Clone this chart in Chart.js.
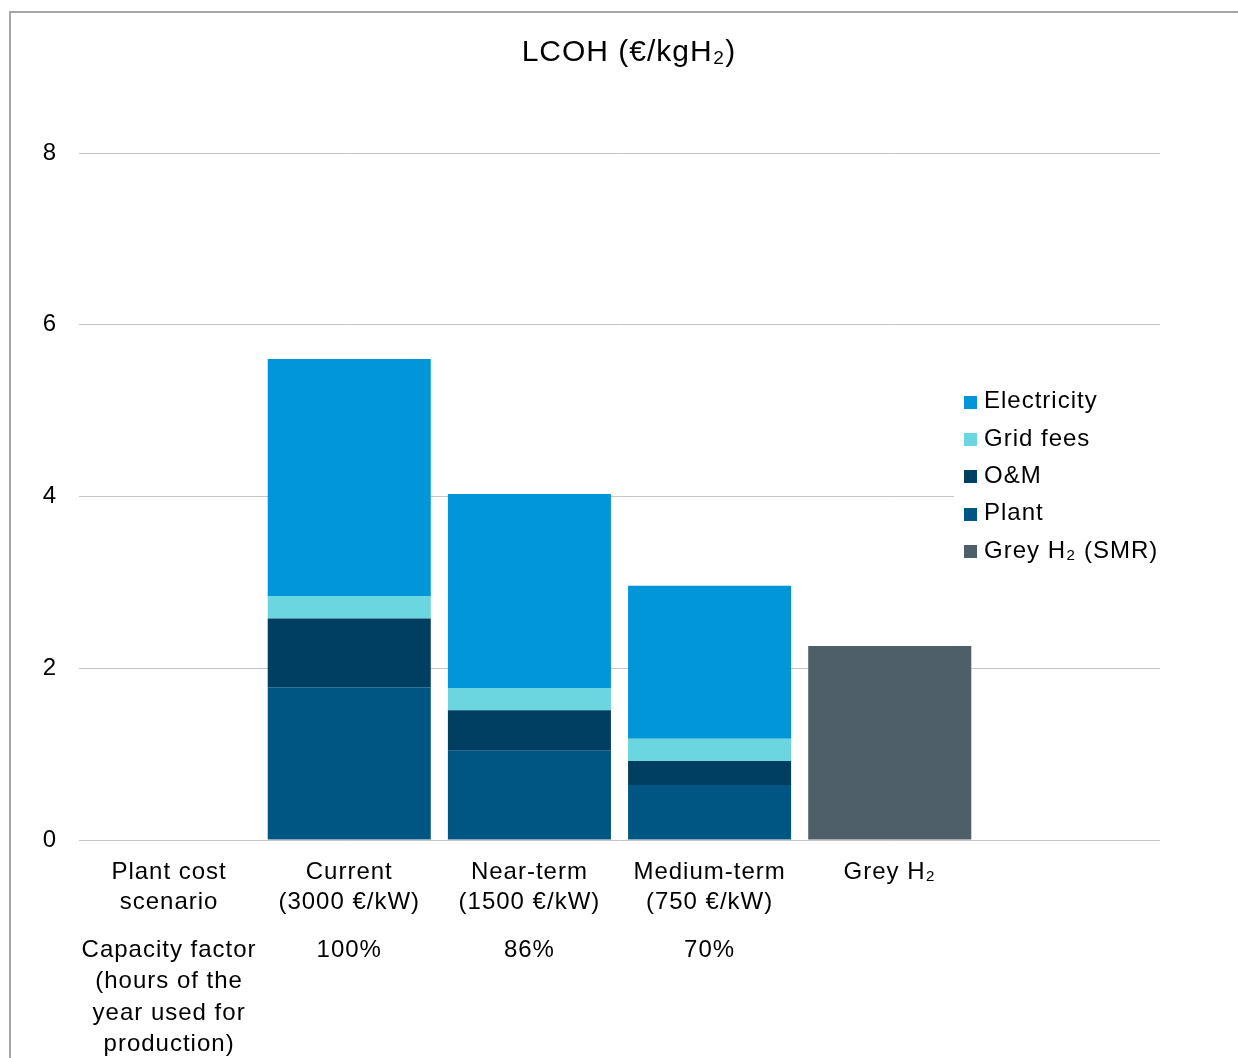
<!DOCTYPE html>
<html>
<head>
<meta charset="utf-8">
<title>LCOH</title>
<script src="https://cdn.jsdelivr.net/npm/chart.js@4.4.1/dist/chart.umd.min.js"></script>
<style>
  html, body { margin: 0; padding: 0; background: #fff; overflow: hidden; }
  #wrap { position: relative; width: 1238px; height: 1058px; }
  #wrap canvas { position: absolute; left: 0; top: 0; }
  #frame { position: absolute; left: 9px; top: 11px; right: 0; bottom: 0;
           border-top: 2px solid #a6a6a6; border-left: 2px solid #a6a6a6; pointer-events: none; }
</style>
</head>
<body>
<div id="wrap">
  <canvas id="lcoh" width="1238" height="1058"></canvas>
  <div id="frame"></div>
</div>
<script>
'use strict';
//___________DATA__________________
var scenarios = [['Plant cost', 'scenario'], ['Current', '(3000 €/kW)'], ['Near-term', '(1500 €/kW)'],
  ['Medium-term', '(750 €/kW)'], 'Grey H₂', ''];
var capacityFactors = [['Capacity factor', '(hours of the', 'year used for', 'production)'], '100%', '86%', '70%', '', ''];

var plant       = [null, 1.78, 1.04, 0.64, null, null];
var om          = [null, 0.80, 0.47, 0.28, null, null];
var gridFees    = [null, 0.26, 0.26, 0.26, null, null];
var electricity = [null, 2.76, 2.26, 1.78, null, null];
var greyH2      = [null, null, null, null, 2.26, null];

var yTicks = [0, 2, 4, 6, 8];
var legendOrder = ['Electricity', 'Grid fees', 'O&M', 'Plant', 'Grey H₂ (SMR)'];

//___________STYLE_________________________________
var FONT = 'Liberation Sans, Arial, sans-serif';
var colors = {
  'Plant': '#005683',
  'O&M': '#003F62',
  'Grid fees': '#6BD5E0',
  'Electricity': '#0096D8',
  'Grey H₂ (SMR)': '#4E5F6A'
};

// text in the original is set a little wide
var spacing = {
  id: 'spacing',
  beforeUpdate: function(chart) { chart.ctx.letterSpacing = '1px'; },
  beforeDraw: function(chart) { chart.ctx.letterSpacing = '1px'; }
};

// legend floats over the empty right-hand category
var floatingLegend = {
  id: 'floatingLegend',
  afterDraw: function(chart) {
    var ctx = chart.ctx;
    ctx.save();
    ctx.letterSpacing = '1px';
    ctx.fillStyle = '#fff';
    ctx.fillRect(954, 383, 220, 188);
    ctx.font = '24px ' + FONT;
    ctx.textBaseline = 'middle';
    ctx.textAlign = 'left';
    for (var i = 0; i < legendOrder.length; i++) {
      var ds = chart.data.datasets.find(function(d) { return d.label === legendOrder[i]; });
      var y = 401.5 + i * 37.4;
      ctx.fillStyle = ds.backgroundColor;
      ctx.fillRect(964, Math.round(y - 6), 13, 13);
      ctx.fillStyle = '#000';
      ctx.fillText(ds.label, 984, y);
    }
    ctx.restore();
  }
};

function makeSet(label, values) {
  return {
    label: label,
    data: values,
    backgroundColor: colors[label],
    borderWidth: 0,
    barPercentage: 0.905,
    categoryPercentage: 1
  };
}

var ctx = document.getElementById('lcoh').getContext('2d');
new Chart(ctx, {
  type: 'bar',
  data: {
    labels: scenarios,
    datasets: [
      makeSet('Plant', plant),
      makeSet('O&M', om),
      makeSet('Grid fees', gridFees),
      makeSet('Electricity', electricity),
      makeSet('Grey H₂ (SMR)', greyH2)
    ]
  },
  options: {
    responsive: false,
    animation: false,
    // left padding keeps the title centred inside the frame
    layout: { padding: { left: 20, right: 0, top: 0, bottom: 0 } },
    plugins: {
      legend: { display: false },
      tooltip: { enabled: false },
      title: {
        display: true,
        text: 'LCOH (€/kgH₂)',
        color: '#000',
        font: { family: FONT, size: 30, weight: 'normal', lineHeight: 1.2 },
        padding: { top: 34.5, bottom: 82.5 }
      }
    },
    scales: {
      x: {
        stacked: true,
        weight: 0,
        grid: { display: false, drawTicks: false },
        border: { display: false },
        ticks: {
          autoSkip: false, maxRotation: 0, color: '#000', padding: 17,
          font: { family: FONT, size: 24, lineHeight: 1.25 }
        },
        afterFit: function(scale) { scale.height = 78; }
      },
      x2: {
        type: 'category',
        position: 'bottom',
        weight: 1,
        labels: capacityFactors,
        offset: true,
        grid: { display: false, drawTicks: false },
        border: { display: false },
        ticks: {
          autoSkip: false, maxRotation: 0, color: '#000', padding: 17,
          font: { family: FONT, size: 24, lineHeight: 1.3 }
        },
        afterFit: function(scale) { scale.height = 140; }
      },
      y: {
        stacked: true,
        min: 0,
        max: 8,
        grid: { color: '#c4c4c4', lineWidth: 1, drawTicks: false },
        border: { display: false },
        ticks: {
          color: '#000', padding: 22,
          font: { family: FONT, size: 24 }
        },
        afterBuildTicks: function(scale) {
          scale.ticks = yTicks.map(function(v) { return { value: v }; });
        },
        afterFit: function(scale) { scale.width = 59; }
      },
      // empty strip on the right so the plot stops short of the frame
      yRight: {
        position: 'right',
        grid: { display: false, drawTicks: false },
        border: { display: false },
        ticks: { display: false },
        afterFit: function(scale) { scale.width = 78; }
      }
    }
  },
  plugins: [spacing, floatingLegend]
});
</script>
</body>
</html>
